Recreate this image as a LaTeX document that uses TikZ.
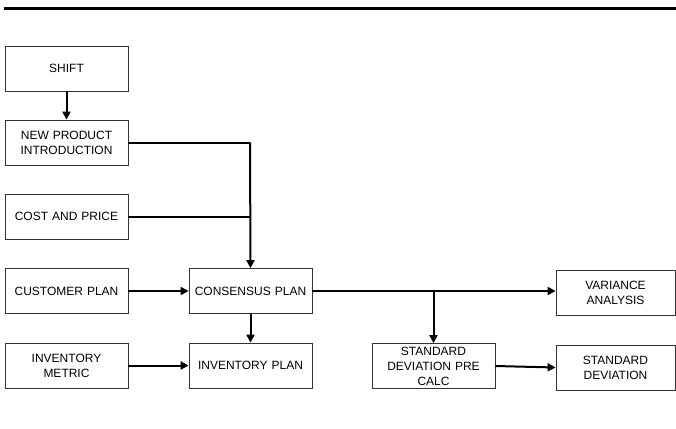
\documentclass[tikz,border=0pt]{standalone}
\usepackage{fontspec}
\setmainfont{Liberation Sans}
\usetikzlibrary{arrows.meta}
\begin{document}
\begin{tikzpicture}[x=1pt,y=-1pt,
  box/.style={draw=black!80,line width=0.8pt,minimum width=123pt,minimum height=45pt,inner sep=0pt,
    align=center,font=\fontsize{12}{15}\selectfont,text width=115pt},
  conn/.style={line width=2pt},
  arr/.style={conn,-{Triangle[length=8pt,width=8pt]}}]
\useasboundingbox (0,0) rectangle (676,428);
\fill[white] (0,0) rectangle (676,428);
\draw[line width=3pt] (4,9) -- (676,9);
\node[box] (shift) at (66.5,68.5) {SHIFT};
\node[box] (npi) at (66.5,142.5) {NEW PRODUCT\\INTRODUCTION};
\node[box] (cost) at (66.5,216.5) {COST AND PRICE};
\node[box] (cust) at (66.5,291) {CUSTOMER PLAN};
\node[box] (invm) at (66.5,365.5) {INVENTORY\\METRIC};
\node[box] (cons) at (250.5,291) {CONSENSUS PLAN};
\node[box] (invp) at (250.5,365.5) {INVENTORY PLAN};
\node[box] (sdpre) at (433.5,366) {STANDARD\\DEVIATION PRE\\CALC};
\node[box,minimum width=119pt,text width=110pt] (var) at (615.5,292.5) {VARIANCE\\ANALYSIS};
\node[box,minimum width=119pt,text width=110pt] (sd) at (615.5,367.5) {STANDARD\\DEVIATION};
\coordinate (j1) at (250,142.5);
\coordinate (j2) at (250,216.5);
\coordinate (j3) at (433.5,291);
\draw[arr] (shift) -- (npi);
\draw[conn] (npi.east) -- (j1);
\draw[conn] (cost.east) -- (j2);
\draw[arr] (j1) -- (cons.north);
\draw[arr] (cust) -- (cons);
\draw[arr] (cons) -- (invp);
\draw[arr] (invm) -- (invp);
\draw[arr] (cons.east) -- (var.west |- cons.east);
\draw[arr] (j3) -- (sdpre.north);
\draw[arr] (sdpre.east) -- (sd.west);
\end{tikzpicture}
\end{document}
